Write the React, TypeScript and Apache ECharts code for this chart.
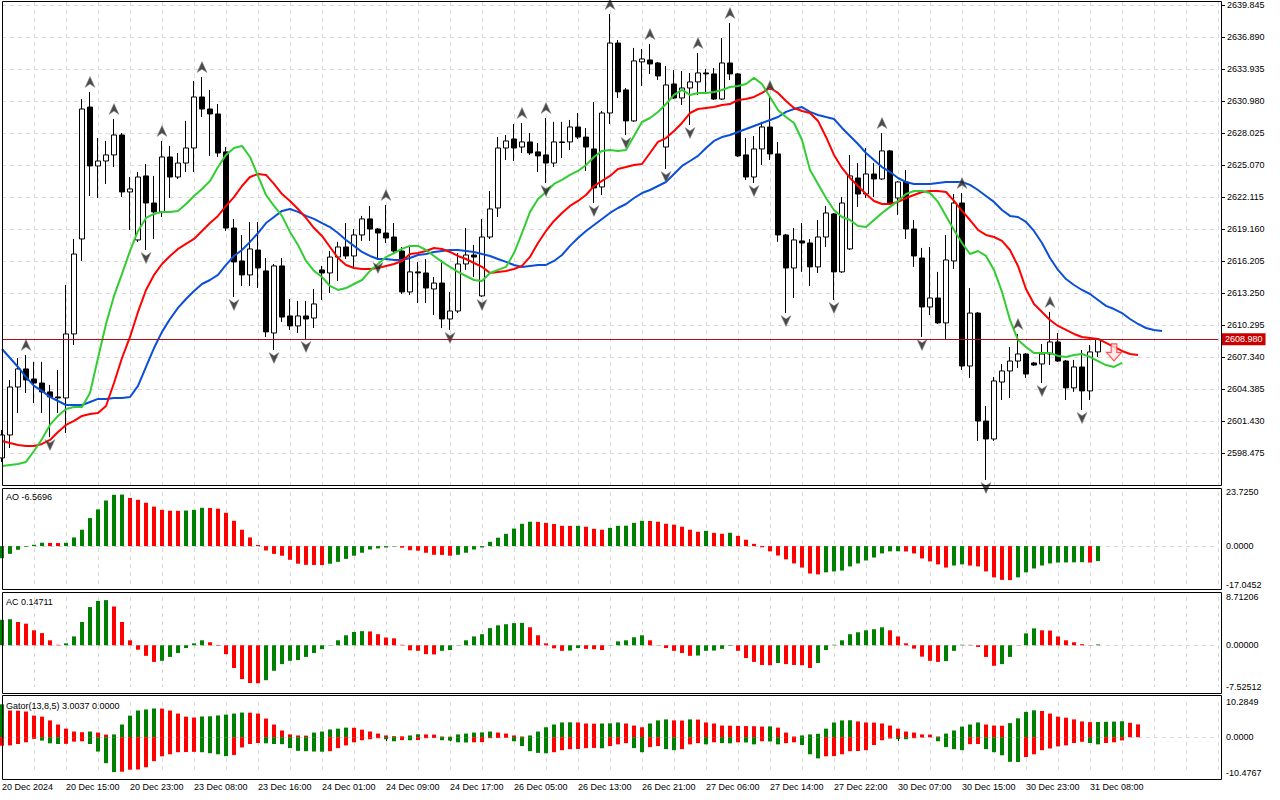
import React, { useEffect, useRef } from 'react';
import * as echarts from 'echarts';

// ---------------- data ----------------
const xTickLabels = [
  '20 Dec 2024', '20 Dec 15:00', '20 Dec 23:00', '23 Dec 08:00', '23 Dec 16:00', '24 Dec 01:00',
  '24 Dec 09:00', '24 Dec 17:00', '26 Dec 05:00', '26 Dec 13:00', '26 Dec 21:00', '27 Dec 06:00',
  '27 Dec 14:00', '27 Dec 22:00', '30 Dec 07:00', '30 Dec 15:00', '30 Dec 23:00', '31 Dec 08:00',
];

const priceTicks = [
  2639.845, 2636.89, 2633.935, 2630.98, 2628.025, 2625.07, 2622.115, 2619.16,
  2616.205, 2613.25, 2610.295, 2607.34, 2604.385, 2601.43, 2598.475,
];
const priceAxisMin = 2595.43;
const priceAxisMax = 2640.12;
const currentPrice = 2608.98;

// open, close, low, high
const candles: number[][] = [
  [2598.02, 2600.14, 2597.65, 2600.60], [2600.14, 2604.57, 2598.94, 2605.22], [2604.57, 2606.24, 2602.17, 2607.25],
  [2606.24, 2605.22, 2604.02, 2607.53], [2605.31, 2604.94, 2603.09, 2606.89], [2604.94, 2604.12, 2602.17, 2606.89],
  [2604.12, 2603.65, 2599.95, 2604.76], [2603.65, 2603.56, 2602.17, 2606.14], [2603.56, 2609.47, 2600.32, 2613.99],
  [2609.47, 2616.85, 2608.45, 2618.24], [2618.24, 2630.24, 2616.21, 2631.16], [2630.42, 2624.98, 2622.21, 2631.82],
  [2624.98, 2625.44, 2622.02, 2627.56], [2625.44, 2626.00, 2623.32, 2627.29], [2626.00, 2627.84, 2624.88, 2629.32],
  [2627.84, 2622.58, 2622.11, 2628.02], [2622.58, 2622.86, 2619.07, 2623.96], [2618.15, 2623.96, 2617.96, 2624.43],
  [2624.06, 2621.56, 2617.22, 2625.16], [2621.56, 2620.74, 2618.24, 2624.06], [2620.74, 2625.81, 2620.27, 2627.29],
  [2625.81, 2623.96, 2622.02, 2626.83], [2623.96, 2625.25, 2623.78, 2626.18], [2625.25, 2626.64, 2624.43, 2629.14],
  [2626.64, 2631.35, 2624.43, 2632.83], [2631.35, 2630.24, 2629.50, 2633.19], [2630.24, 2629.78, 2625.91, 2632.00],
  [2629.78, 2626.18, 2625.81, 2630.70], [2626.28, 2619.25, 2618.98, 2626.73], [2619.25, 2616.12, 2612.88, 2620.09],
  [2616.21, 2614.92, 2613.90, 2618.61], [2614.92, 2617.32, 2613.90, 2619.81], [2617.22, 2615.56, 2613.71, 2619.81],
  [2615.29, 2609.66, 2609.19, 2616.48], [2609.56, 2615.75, 2607.99, 2615.93], [2615.75, 2611.03, 2610.58, 2616.48],
  [2611.13, 2610.21, 2609.84, 2612.70], [2610.21, 2611.13, 2609.56, 2612.52], [2611.13, 2610.85, 2609.01, 2612.52],
  [2610.94, 2612.24, 2610.02, 2613.62], [2615.38, 2615.10, 2612.61, 2615.75], [2615.10, 2616.57, 2613.25, 2617.13],
  [2616.57, 2617.50, 2614.36, 2617.97], [2617.50, 2616.67, 2616.39, 2619.71], [2616.67, 2618.61, 2615.56, 2619.16],
  [2618.61, 2620.09, 2618.06, 2620.37], [2620.09, 2619.16, 2618.06, 2621.29], [2619.16, 2618.79, 2616.30, 2619.25],
  [2618.79, 2618.33, 2617.87, 2621.38], [2618.42, 2617.13, 2616.85, 2619.71], [2617.13, 2613.35, 2613.16, 2617.50],
  [2613.35, 2615.20, 2613.07, 2617.50], [2615.20, 2615.10, 2612.33, 2616.12], [2615.10, 2613.71, 2612.33, 2616.39],
  [2613.62, 2614.17, 2611.22, 2614.73], [2614.17, 2610.85, 2610.02, 2616.30], [2610.85, 2611.59, 2609.84, 2613.35],
  [2611.59, 2615.93, 2611.40, 2616.94], [2615.93, 2616.76, 2615.38, 2619.25], [2616.76, 2616.57, 2614.73, 2617.69],
  [2612.98, 2618.42, 2612.88, 2620.09], [2618.42, 2621.01, 2618.24, 2622.67], [2621.10, 2626.64, 2620.27, 2627.65],
  [2626.64, 2627.29, 2625.53, 2627.84], [2627.47, 2626.64, 2625.44, 2628.86], [2626.73, 2627.20, 2626.18, 2628.95],
  [2627.20, 2626.18, 2626.00, 2628.02], [2626.28, 2625.91, 2624.43, 2627.10], [2626.00, 2625.25, 2623.41, 2629.41],
  [2625.25, 2627.20, 2624.88, 2629.05], [2627.20, 2627.15, 2625.72, 2629.05], [2627.20, 2628.58, 2626.46, 2629.23],
  [2628.58, 2627.65, 2627.47, 2629.87], [2627.65, 2626.73, 2624.52, 2628.48], [2626.55, 2622.95, 2621.56, 2630.89],
  [2623.04, 2629.87, 2622.30, 2630.06], [2629.87, 2636.33, 2628.86, 2639.01], [2636.33, 2631.82, 2631.26, 2636.61],
  [2632.00, 2629.14, 2627.84, 2632.18], [2629.14, 2634.68, 2629.05, 2635.88], [2634.59, 2634.86, 2632.37, 2635.78],
  [2634.77, 2634.40, 2633.48, 2636.24], [2634.49, 2633.29, 2632.92, 2634.58], [2626.73, 2632.46, 2624.70, 2634.21],
  [2632.55, 2631.26, 2631.16, 2633.84], [2631.26, 2632.18, 2630.61, 2633.75], [2632.18, 2632.74, 2628.76, 2633.57],
  [2632.74, 2633.57, 2631.54, 2635.41], [2633.57, 2633.48, 2631.72, 2633.94], [2633.48, 2631.16, 2631.07, 2634.03],
  [2631.16, 2634.49, 2631.07, 2636.80], [2634.49, 2633.48, 2632.92, 2638.18], [2633.48, 2625.91, 2625.81, 2633.57],
  [2626.00, 2623.96, 2623.69, 2627.56], [2623.96, 2626.55, 2623.41, 2627.75], [2626.55, 2628.58, 2625.07, 2629.05],
  [2628.58, 2626.09, 2625.53, 2631.44], [2626.09, 2618.61, 2617.97, 2627.20], [2618.61, 2615.56, 2611.40, 2618.70],
  [2615.56, 2618.15, 2612.79, 2619.25], [2618.06, 2617.87, 2615.20, 2619.71], [2617.87, 2615.66, 2613.90, 2618.24],
  [2615.66, 2618.42, 2615.10, 2619.99], [2618.42, 2620.64, 2617.50, 2621.29], [2620.55, 2615.20, 2612.61, 2620.64],
  [2615.20, 2621.56, 2615.10, 2622.11], [2617.32, 2624.06, 2617.22, 2626.00], [2623.87, 2622.39, 2621.20, 2625.25],
  [2622.39, 2624.24, 2622.02, 2626.64], [2624.24, 2623.78, 2622.11, 2625.25], [2623.78, 2626.37, 2623.69, 2628.02],
  [2626.37, 2621.56, 2621.38, 2626.46], [2622.02, 2623.50, 2620.46, 2623.59], [2623.50, 2619.16, 2618.24, 2624.61],
  [2619.16, 2616.67, 2615.66, 2619.99], [2616.48, 2611.96, 2609.19, 2617.41], [2611.96, 2612.79, 2611.22, 2617.50],
  [2612.79, 2610.49, 2610.39, 2615.20], [2610.49, 2616.30, 2608.91, 2618.61], [2616.21, 2621.56, 2615.47, 2622.39],
  [2621.56, 2606.51, 2606.14, 2622.48], [2606.51, 2611.40, 2605.41, 2613.71], [2611.40, 2601.43, 2599.59, 2611.50],
  [2601.43, 2599.77, 2595.99, 2602.82], [2599.77, 2605.13, 2599.59, 2605.50], [2605.03, 2606.05, 2603.37, 2606.70],
  [2606.05, 2606.97, 2603.56, 2608.27], [2606.97, 2607.62, 2606.33, 2609.47], [2607.62, 2605.77, 2605.41, 2607.71],
  [2606.79, 2606.60, 2606.51, 2606.89], [2606.70, 2607.62, 2604.94, 2608.54], [2607.62, 2608.73, 2606.60, 2611.50],
  [2608.73, 2606.97, 2606.89, 2609.56], [2606.97, 2604.49, 2603.37, 2607.07], [2604.49, 2606.42, 2604.12, 2607.07],
  [2606.42, 2604.21, 2602.45, 2607.99], [2604.21, 2607.81, 2603.37, 2608.45], [2607.81, 2608.98, 2607.34, 2609.10],
];

// Alligator lines (already shifted forward)
const jaw = [
  2608.08, 2607.25, 2606.42, 2605.49, 2604.67, 2604.21, 2603.65, 2603.28, 2602.91, 2602.91,
  2602.91, 2603.19, 2603.47, 2603.47, 2603.56, 2603.56, 2603.65, 2604.67, 2606.42, 2608.17,
  2609.66, 2610.85, 2611.87, 2612.70, 2613.44, 2614.08, 2614.45, 2614.92, 2615.84, 2616.67,
  2617.22, 2617.97, 2618.79, 2619.71, 2620.27, 2620.83, 2621.01, 2620.74, 2620.37, 2620.09,
  2619.71, 2619.34, 2618.79, 2618.15, 2617.60, 2617.04, 2616.67, 2616.39, 2616.39, 2616.30,
  2616.30, 2616.48, 2616.76, 2616.85, 2617.04, 2617.13, 2617.22, 2617.22, 2617.13, 2617.04,
  2616.85, 2616.67, 2616.39, 2616.12, 2615.84, 2615.66, 2615.75, 2615.84, 2615.84, 2616.21,
  2616.76, 2617.60, 2618.33, 2618.98, 2619.53, 2620.09, 2620.64, 2621.10, 2621.47, 2622.02,
  2622.48, 2622.76, 2623.13, 2623.50, 2624.24, 2624.98, 2625.44, 2625.91, 2626.64, 2627.29,
  2627.65, 2627.84, 2628.12, 2628.39, 2628.67, 2628.95, 2629.23, 2629.50, 2629.97, 2630.24,
  2630.42, 2629.97, 2629.69, 2629.50, 2629.32, 2628.49, 2627.75, 2627.01, 2626.18, 2625.53,
  2624.88, 2624.43, 2623.87, 2623.50, 2623.32, 2623.32, 2623.32, 2623.41, 2623.50, 2623.50,
  2623.50, 2623.23, 2622.76, 2622.21, 2621.66, 2620.92, 2620.37, 2620.27, 2619.81, 2618.98,
  2617.87, 2616.48, 2615.38, 2614.54, 2613.99, 2613.53, 2613.16, 2612.61, 2612.06, 2611.77,
  2611.40, 2610.85, 2610.39, 2610.02, 2609.84, 2609.75,
];
const teeth = [
  2599.59, 2599.40, 2599.22, 2599.13, 2599.13, 2599.31, 2599.68, 2600.42, 2601.07, 2601.44,
  2601.90, 2602.08, 2602.17, 2602.82, 2604.94, 2607.25, 2609.19, 2611.50, 2613.53, 2614.92,
  2615.93, 2616.67, 2617.32, 2617.78, 2618.24, 2618.98, 2619.71, 2620.37, 2621.29, 2622.11,
  2623.13, 2623.96, 2624.24, 2624.15, 2623.32, 2622.39, 2621.75, 2621.01, 2620.18, 2619.25,
  2618.52, 2617.50, 2616.48, 2615.84, 2615.56, 2615.47, 2615.47, 2615.56, 2615.75, 2615.93,
  2616.21, 2616.85, 2616.94, 2617.13, 2617.41, 2617.32, 2617.04, 2616.67, 2616.39, 2616.02,
  2615.66, 2615.10, 2615.20, 2615.29, 2615.47, 2615.75, 2616.58, 2617.87, 2618.98, 2619.90,
  2620.64, 2621.29, 2621.75, 2622.30, 2623.13, 2623.60, 2624.06, 2624.70, 2624.88, 2625.07,
  2625.16, 2626.18, 2627.20, 2627.56, 2628.21, 2628.95, 2629.87, 2630.24, 2630.33, 2630.42,
  2630.61, 2630.70, 2631.07, 2631.16, 2631.35, 2631.72, 2632.18, 2631.72, 2630.98, 2630.33,
  2630.06, 2629.87, 2629.14, 2627.66, 2626.00, 2624.80, 2623.87, 2623.13, 2622.39, 2621.75,
  2621.47, 2621.47, 2621.66, 2622.02, 2622.30, 2622.58, 2622.67, 2622.67, 2622.58, 2621.75,
  2620.83, 2619.99, 2619.07, 2618.61, 2618.42, 2618.06, 2617.22, 2615.75, 2613.62, 2612.24,
  2611.50, 2610.76, 2610.21, 2609.84, 2609.47, 2609.19, 2609.10, 2609.01, 2608.64, 2608.27,
  2607.90, 2607.62, 2607.53,
];
const lips = [
  2597.28, 2597.37, 2597.46, 2597.65, 2598.66, 2599.77, 2601.07, 2601.90, 2602.54, 2602.72,
  2602.72, 2604.02, 2607.25, 2610.39, 2612.98, 2615.01, 2617.13, 2618.98, 2620.18, 2620.55,
  2620.74, 2620.74, 2620.83, 2621.47, 2622.21, 2622.86, 2623.60, 2624.88, 2626.00, 2626.64,
  2626.83, 2625.81, 2624.06, 2622.30, 2621.29, 2620.37, 2618.89, 2617.69, 2616.21, 2615.29,
  2614.73, 2613.90, 2613.53, 2613.71, 2614.08, 2614.45, 2615.29, 2615.93, 2616.57, 2616.94,
  2617.32, 2617.60, 2617.60, 2617.22, 2616.67, 2616.12, 2615.66, 2615.20, 2614.82, 2614.45,
  2614.36, 2615.10, 2615.38, 2615.66, 2616.94, 2618.79, 2620.74, 2621.93, 2622.58, 2623.32,
  2623.69, 2624.15, 2624.52, 2625.07, 2625.81, 2626.37, 2626.46, 2626.37, 2626.46, 2627.75,
  2629.04, 2629.41, 2629.97, 2630.70, 2631.54, 2632.00, 2631.54, 2631.72, 2631.72, 2631.81,
  2632.00, 2632.27, 2632.37, 2632.55, 2633.11, 2632.55, 2631.35, 2630.15, 2629.50, 2628.95,
  2627.38, 2624.61, 2623.32, 2622.02, 2620.92, 2620.27, 2619.99, 2619.44, 2619.34, 2619.99,
  2620.64, 2621.20, 2621.75, 2622.39, 2622.67, 2622.67, 2622.48, 2621.66, 2620.37, 2619.07,
  2617.87, 2616.85, 2617.13, 2616.67, 2615.38, 2613.35, 2610.76, 2608.91, 2608.27, 2607.71,
  2607.71, 2607.71, 2607.44, 2607.34, 2607.53, 2607.62, 2607.34, 2606.97, 2606.60, 2606.42,
  2606.79,
];

const upFractals = [3, 11, 14, 20, 25, 48, 65, 68, 76, 81, 87, 91, 96, 110, 120, 127, 131];
const downFractals = [6, 18, 29, 34, 38, 47, 56, 60, 68, 74, 78, 83, 86, 94, 98, 104, 115, 123, 130, 135];
const sellSignal = { index: 139, price: 2607.76 };

const ao = [
  -5.3, -3.4, -1.6, -0.3, 0.6, 1.5, 1.4, 1.35, 1.45, 3.8,
  7.2, 12.3, 16.1, 20.0, 22.5, 22.6, 21.1, 20.3, 19.0, 17.3,
  15.9, 15.5, 15.45, 15.6, 15.9, 16.8, 16.7, 16.4, 14.6, 11.1,
  7.2, 3.8, 0.5, -1.9, -3.4, -4.2, -6.0, -7.7, -8.2, -8.25,
  -8.3, -7.7, -6.9, -5.6, -4.2, -2.9, -1.5, -1.0, -0.6, -0.2,
  -0.7, -1.8, -2.0, -2.9, -3.8, -3.85, -4.2, -3.8, -2.9, -1.5,
  -0.6, 1.9, 3.7, 5.4, 7.7, 9.8, 10.7, 10.6, 10.2, 9.7,
  8.9, 8.85, 8.9, 8.5, 7.6, 7.2, 8.0, 8.9, 8.95, 10.2,
  11.1, 11.0, 10.7, 9.8, 9.4, 8.5, 7.2, 6.3, 6.7, 5.8,
  5.4, 5.85, 4.5, 2.8, 1.0, -0.5, -2.3, -4.1, -5.8, -7.6,
  -9.4, -12.0, -12.4, -11.5, -11.1, -10.7, -8.9, -7.6, -6.3, -5.0,
  -3.2, -2.3, -2.25, -2.35, -3.2, -5.4, -6.7, -8.0, -9.4, -8.5,
  -8.0, -8.5, -8.9, -11.1, -13.7, -14.8, -14.9, -13.7, -11.5, -9.8,
  -8.5, -7.6, -7.2, -7.15, -7.1, -7.05, -7.2, -6.5696,
];
const aoRange = [-17.0452, 23.725];

const ac = [
  4.6, 4.7, 4.2, 3.9, 2.7, 2.2, 0.9, 0.1, 0.35, 1.6,
  4.2, 6.9, 8.0, 8.15, 7.0, 4.2, 0.9, -0.8, -1.9, -3.0,
  -2.8, -2.1, -1.4, -0.5, 0.35, 0.9, 0.55, -0.1, -1.6, -4.1,
  -6.1, -6.8, -6.85, -6.3, -4.6, -3.4, -2.8, -2.65, -2.1, -1.4,
  -0.7, 0.05, 0.9, 1.8, 2.4, 2.55, 2.5, 2.0, 1.4, 1.25,
  0.1, -0.9, -1.0, -1.6, -1.65, -1.0, -0.85, -0.05, 0.9, 1.6,
  2.0, 3.1, 3.6, 3.8, 4.0, 4.05, 3.25, 1.8, 0.35, -0.55,
  -1.0, -0.95, -0.5, -0.65, -0.7, -0.85, -0.05, 0.7, 0.9, 1.45,
  1.8, 0.9, -0.05, -0.5, -1.0, -1.4, -1.9, -1.85, -1.0, -0.95,
  -0.65, -0.1, -1.0, -2.3, -3.0, -3.55, -3.6, -3.2, -3.4, -3.55,
  -3.6, -4.1, -3.2, -0.85, 0.1, 0.9, 2.0, 2.35, 2.7, 2.9,
  3.25, 2.7, 1.6, 0.35, -0.6, -2.05, -2.8, -3.0, -2.85, -1.0,
  0.1, 0.08, -0.3, -2.1, -3.7, -3.4, -2.1, -0.05, 2.15, 3.05,
  2.7, 2.65, 1.6, 0.9, 0.55, 0.2, 0.05, 0.14711,
];
const acRange = [-7.52512, 8.71206];

const gatorUp = [
  9.6, 7.8, 7.75, 7.5, 6.3, 6.0, 4.9, 3.7, 2.5, 1.65,
  1.45, 1.65, 1.35, 0.75, 0.8, 3.7, 6.3, 7.8, 8.1, 8.4,
  8.35, 7.8, 6.9, 6.0, 5.75, 6.05, 6.1, 6.35, 6.6, 6.9,
  7.2, 7.15, 6.9, 5.45, 3.7, 1.95, 0.8, 0.5, 0.45, 1.35,
  1.65, 2.25, 2.5, 2.8, 2.75, 2.2, 1.65, 1.05, 0.5, 0.3,
  0.25, 0.5, 0.85, 0.8, 0.75, 0.2, 0.15, 0.8, 1.05, 1.35,
  1.4, 1.65, 1.35, 1.05, 0.5, 0.2, 0.5, 1.65, 2.9, 3.7,
  4.3, 4.35, 4.3, 4.0, 3.95, 4.0, 4.05, 4.3, 4.0, 3.4,
  2.9, 4.0, 4.9, 5.2, 4.9, 4.85, 5.2, 5.15, 4.3, 4.0,
  3.4, 3.35, 3.3, 3.25, 3.2, 3.1, 3.15, 2.8, 1.35, 0.2,
  0.5, 0.8, 1.0, 2.5, 4.3, 4.9, 4.95, 4.6, 4.3, 4.25,
  4.0, 3.4, 2.5, 1.65, 1.35, 0.8, 0.75, 0.2, 1.05, 1.95,
  3.1, 3.7, 4.3, 3.7, 3.4, 3.35, 4.1, 5.5, 7.4, 7.85,
  7.65, 6.9, 6.0, 5.7, 5.2, 4.6, 4.4, 4.45, 4.5, 4.55,
  4.65, 4.2, 3.74,
];
const gatorDown = [
  -2.5, -2.4, -2.0, -1.5, -0.5, -1.0, -1.8, -2.0, -1.95, -1.3,
  -1.2, -2.0, -4.2, -7.6, -10.2, -10.1, -9.5, -9.45, -8.8, -7.0,
  -5.6, -5.0, -4.4, -4.35, -4.3, -4.4, -4.7, -5.0, -5.55, -5.2,
  -3.0, -2.0, -1.7, -1.8, -2.0, -2.05, -3.2, -4.0, -4.1, -4.2,
  -4.25, -4.1, -3.2, -2.4, -1.5, -0.9, -0.6, -0.3, -0.6, -1.2,
  -0.85, -0.9, -0.85, -0.3, -0.25, -0.9, -1.0, -1.5, -1.55, -1.5,
  -1.45, -0.3, -0.25, -0.2, -1.2, -2.6, -4.1, -4.6, -4.7, -4.4,
  -3.8, -3.5, -3.45, -3.2, -3.15, -3.25, -2.6, -2.1, -1.75, -3.2,
  -4.4, -2.9, -2.6, -3.5, -3.8, -3.5, -2.1, -1.75, -2.1, -1.5,
  -1.75, -1.8, -1.5, -1.55, -2.1, -1.2, -1.25, -2.1, -1.75, -1.5,
  -2.3, -5.0, -6.2, -5.6, -5.55, -5.0, -4.1, -4.05, -3.8, -2.3,
  -0.9, -0.4, -0.55, -0.6, -0.3, -0.1, -0.05, -1.2, -2.9, -3.5,
  -3.8, -2.05, -2.0, -3.5, -4.4, -5.3, -7.2, -7.25, -5.8, -5.0,
  -3.8, -3.3, -2.7, -2.4, -1.7, -1.35, -1.7, -2.1, -1.7, -1.5,
  -0.95,
];
const gatorRange = [-10.4767, 10.2849];

const aoTitle = 'AO -6.5696';
const acTitle = 'AC 0.14711';
const gatorTitle = 'Gator(13,8,5) 3.0037 0.0000';

// ---------------- styling ----------------
const N_CAT = 153;
const categories = Array.from({ length: N_CAT }, (_, i) => String(i));
const FONT = '"Liberation Sans", Arial, sans-serif';
const GREEN = '#008000';
const RED = '#ff0000';
const GRID_COLOR = '#dadada';
const GRID_LEFT = 2;
const GRID_WIDTH = 1216;

const risingColor = (arr: number[], useAbs: boolean, firstColor: string) => (p: any) => {
  const i = p.dataIndex;
  if (i === 0) return firstColor;
  const cur = useAbs ? Math.abs(arr[i]) : arr[i];
  const prev = useAbs ? Math.abs(arr[i - 1]) : arr[i - 1];
  return cur > prev ? GREEN : RED;
};

const labelInterval = (index: number) => index % 8 === 0 && index / 8 < xTickLabels.length;

function makeXAxis(gridIndex: number) {
  const bottom = gridIndex === 3;
  return {
    type: 'category',
    gridIndex,
    data: categories,
    boundaryGap: false,
    offset: bottom ? 6 : 0,
    axisLine: { show: false },
    axisTick: {
      show: bottom,
      interval: labelInterval,
      length: 4,
      lineStyle: { color: '#000', width: 1 },
    },
    axisLabel: {
      show: bottom,
      interval: labelInterval,
      formatter: (_v: string, i: number) => xTickLabels[i / 8] ?? '',
      align: 'left',
      margin: 3,
      color: '#000',
      fontSize: 9,
      fontFamily: FONT,
    },
    splitLine: {
      show: true,
      interval: (i: number) => i % 4 === 0 && i > 0,
      lineStyle: { color: GRID_COLOR, type: [4, 4], width: 1 },
    },
  };
}

function makeSubYAxis(gridIndex: number, range: number[], digits: number) {
  const values = [range[0], 0, range[1]];
  return {
    type: 'value',
    gridIndex,
    position: 'right',
    offset: 3,
    min: range[0],
    max: range[1],
    axisLine: { show: false },
    axisTick: { show: false, customValues: [0] },
    axisLabel: {
      customValues: values,
      formatter: (v: number) => v.toFixed(digits),
      color: '#000',
      fontSize: 9,
      fontFamily: FONT,
      margin: 5,
    },
    splitLine: { show: true, lineStyle: { color: GRID_COLOR, type: [4, 4], width: 1 } },
  };
}

const upArrow = 'path://M6,0 L12,13 L6,9 L0,13 Z';
const downArrow = 'path://M0,0 L6,4 L12,0 L6,13 Z';
const sellArrow = 'path://M5,0 L11,0 L11,9 L16,9 L8,18 L0,9 L5,9 Z';

function buildOption() {
  return {
    animation: false,
    backgroundColor: '#ffffff',
    textStyle: { fontFamily: FONT },
    grid: [
      { left: GRID_LEFT, top: 2, width: GRID_WIDTH, height: 484, outerBoundsMode: 'none' },
      { left: GRID_LEFT, top: 492, width: GRID_WIDTH, height: 93, outerBoundsMode: 'none' },
      { left: GRID_LEFT, top: 597, width: GRID_WIDTH, height: 90, outerBoundsMode: 'none' },
      { left: GRID_LEFT, top: 702, width: GRID_WIDTH, height: 71, outerBoundsMode: 'none' },
    ],
    xAxis: [makeXAxis(0), makeXAxis(1), makeXAxis(2), makeXAxis(3)],
    yAxis: [
      {
        type: 'value',
        gridIndex: 0,
        position: 'right',
        offset: 3,
        min: priceAxisMin,
        max: priceAxisMax,
        axisLine: { show: false },
        axisTick: { show: true, length: 4, customValues: priceTicks, lineStyle: { color: '#000' } },
        axisLabel: {
          customValues: priceTicks,
          formatter: (v: number) => v.toFixed(3),
          color: '#000',
          fontSize: 9,
          fontFamily: FONT,
          margin: 6,
        },
        splitLine: { show: true, lineStyle: { color: GRID_COLOR, type: [4, 4], width: 1 } },
      },
      makeSubYAxis(1, aoRange, 4),
      makeSubYAxis(2, acRange, 5),
      makeSubYAxis(3, gatorRange, 4),
    ],
    series: [
      {
        type: 'candlestick',
        xAxisIndex: 0,
        yAxisIndex: 0,
        data: candles,
        barWidth: 5,
        z: 2,
        itemStyle: {
          color: '#ffffff',
          color0: '#000000',
          borderColor: '#000000',
          borderColor0: '#000000',
          borderWidth: 1,
        },
        markLine: {
          silent: true,
          symbol: ['none', 'none'],
          lineStyle: { color: '#b01010', width: 1, type: 'solid' },
          label: {
            show: true,
            position: 'end',
            distance: 4,
            formatter: currentPrice.toFixed(3),
            color: '#ffffff',
            backgroundColor: '#c80000',
            padding: [2, 3, 1, 3],
            fontSize: 9,
            fontFamily: FONT,
          },
          data: [{ yAxis: currentPrice }],
        },
      },
      {
        type: 'line', xAxisIndex: 0, yAxisIndex: 0, data: jaw, symbol: 'none', z: 3,
        lineStyle: { color: '#0a4fd8', width: 2 },
      },
      {
        type: 'line', xAxisIndex: 0, yAxisIndex: 0, data: teeth, symbol: 'none', z: 3,
        lineStyle: { color: '#ff0000', width: 2 },
      },
      {
        type: 'line', xAxisIndex: 0, yAxisIndex: 0, data: lips, symbol: 'none', z: 3,
        lineStyle: { color: '#32cd32', width: 2 },
      },
      {
        type: 'scatter', xAxisIndex: 0, yAxisIndex: 0, z: 4,
        data: upFractals.map((i) => [i, candles[i][3]]),
        symbol: upArrow, symbolSize: [10, 11], symbolOffset: [0, -10],
        itemStyle: { color: '#1e1e1e', borderColor: '#8a8a8a', borderWidth: 0.6 },
      },
      {
        type: 'scatter', xAxisIndex: 0, yAxisIndex: 0, z: 4,
        data: downFractals.map((i) => [i, candles[i][2]]),
        symbol: downArrow, symbolSize: [10, 11], symbolOffset: [0, 8],
        itemStyle: { color: '#1e1e1e', borderColor: '#8a8a8a', borderWidth: 0.6 },
      },
      {
        type: 'scatter', xAxisIndex: 0, yAxisIndex: 0, z: 5,
        data: [[sellSignal.index, sellSignal.price]],
        symbol: sellArrow, symbolSize: [15, 17],
        itemStyle: { color: '#ffe4e4', borderColor: '#ff2a2a', borderWidth: 1.2 },
      },
      {
        type: 'bar', xAxisIndex: 1, yAxisIndex: 1, data: ao, barWidth: 4,
        itemStyle: { color: risingColor(ao, false, GREEN) },
      },
      {
        type: 'bar', xAxisIndex: 2, yAxisIndex: 2, data: ac, barWidth: 4,
        itemStyle: { color: risingColor(ac, false, GREEN) },
      },
      {
        type: 'bar', xAxisIndex: 3, yAxisIndex: 3, data: gatorUp, barWidth: 4, barGap: '-100%',
        itemStyle: { color: risingColor(gatorUp, true, GREEN) },
      },
      {
        type: 'bar', xAxisIndex: 3, yAxisIndex: 3, data: gatorDown, barWidth: 4, barGap: '-100%',
        itemStyle: { color: risingColor(gatorDown, true, RED) },
      },
    ],
    graphic: [
      { type: 'rect', silent: true, z: 100, shape: { x: 2.5, y: 1.5, width: 1219, height: 484 }, style: { fill: 'none', stroke: '#000', lineWidth: 1 } },
      { type: 'rect', silent: true, z: 100, shape: { x: 2.5, y: 488.5, width: 1219, height: 101 }, style: { fill: 'none', stroke: '#000', lineWidth: 1 } },
      { type: 'rect', silent: true, z: 100, shape: { x: 2.5, y: 592.5, width: 1219, height: 101 }, style: { fill: 'none', stroke: '#000', lineWidth: 1 } },
      { type: 'rect', silent: true, z: 100, shape: { x: 2.5, y: 695.5, width: 1219, height: 84 }, style: { fill: 'none', stroke: '#000', lineWidth: 1 } },
      { type: 'text', silent: true, z: 100, x: 6, y: 497, style: { text: aoTitle, fill: '#000', font: '9px ' + FONT, verticalAlign: 'middle' } },
      { type: 'text', silent: true, z: 100, x: 6, y: 602, style: { text: acTitle, fill: '#000', font: '9px ' + FONT, verticalAlign: 'middle' } },
      { type: 'text', silent: true, z: 100, x: 6, y: 706, style: { text: gatorTitle, fill: '#000', font: '9px ' + FONT, verticalAlign: 'middle' } },
    ],
  };
}

export default function App() {
  const ref = useRef<HTMLDivElement>(null);
  useEffect(() => {
    if (!ref.current) return;
    const chart = echarts.init(ref.current, null, { renderer: 'svg' });
    chart.setOption(buildOption() as any);
    return () => chart.dispose();
  }, []);
  return (
    <div
      ref={ref}
      style={{ position: 'fixed', left: 0, top: 0, width: 1280, height: 800, background: '#ffffff' }}
    />
  );
}
